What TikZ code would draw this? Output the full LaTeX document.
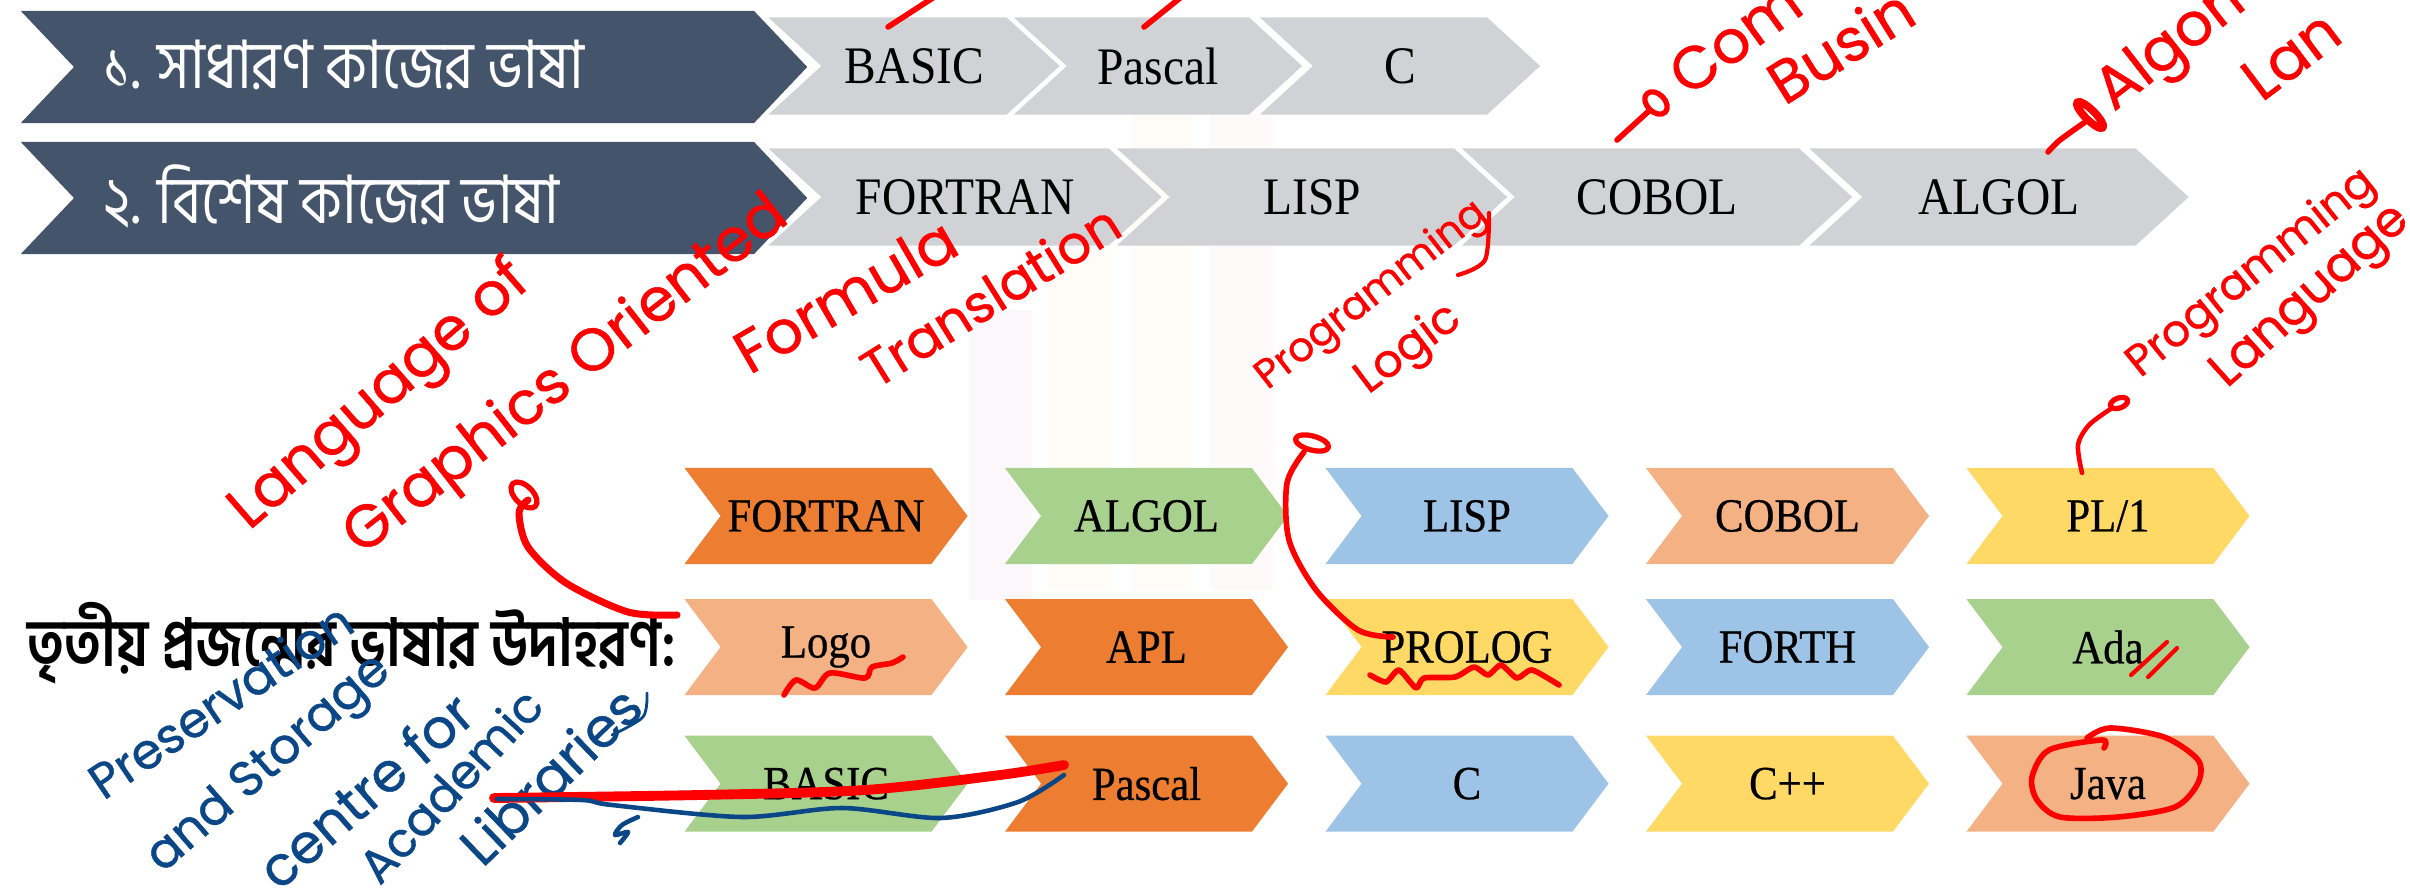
\documentclass[tikz,border=0pt]{standalone}
\usepackage{fontspec}
\setmainfont{Liberation Serif}
\newfontfamily\bnfont[Script=Bengali,FakeStretch=0.84]{Hind Siliguri}
\newfontfamily\chevfont[FakeStretch=0.9]{Liberation Serif}
\newfontfamily\gridfont[FakeStretch=0.9,FakeBold=0.5]{Liberation Serif}
\newfontfamily\inkfont[FakeBold=0.8]{Poppins}
\usetikzlibrary{shapes,positioning,calc}

\definecolor{slatefill}{HTML}{44546A}
\definecolor{greyfill}{HTML}{D0D2D6}
\definecolor{orangefill}{HTML}{ED7D31}
\definecolor{greenfill}{HTML}{A9D18E}
\definecolor{bluefill}{HTML}{9DC3E6}
\definecolor{peachfill}{HTML}{F4B183}
\definecolor{yellowfill}{HTML}{FFD966}
\definecolor{inkred}{HTML}{FF0000}
\definecolor{inkblue}{HTML}{0B4786}

\begin{document}
\begin{tikzpicture}[
    x=0.01cm,
    y=-0.01cm,
    chevron/.style={
        signal,
        signal from=west,
        signal to=east,
        inner sep=0pt
    },
    band/.style={
        chevron,
        fill=slatefill,
        signal pointer angle=93,
        minimum width=7.86cm,
        minimum height=1.12cm
    },
    bandtext/.style={
        anchor=west,
        text=white,
        inner sep=0pt,
        font=\bnfont\fontsize{19}{24}\selectfont
    },
    topcell/.style={
        chevron,
        fill=greyfill,
        signal pointer angle=85,
        minimum height=0.97cm,
        font=\chevfont\fontsize{15}{18}\selectfont
    },
    gridcell/.style={
        chevron,
        signal pointer angle=106,
        minimum width=2.83cm,
        minimum height=0.96cm,
        font=\gridfont\fontsize{13.5}{16}\selectfont
    },
    nextcol/.style={
        right=3.203cm of #1.center,
        anchor=center
    },
    redtext/.style={
        text=inkred,
        inner sep=0pt,
        font=\inkfont\fontsize{17}{20}\selectfont
    },
    bluetext/.style={
        text=inkblue,
        inner sep=0pt,
        font=\inkfont\fontsize{14}{20}\selectfont
    },
    redline/.style={
        draw=inkred,
        line width=1.6pt,
        line cap=round,
        line join=round
    },
    blueline/.style={
        draw=inkblue,
        line width=1.3pt,
        line cap=round,
        line join=round
    }
]

    \useasboundingbox (0,0) rectangle (2410,894);
    \clip (0,0) rectangle (2410,894);

    % Watermark
    \fill [red!2] (1210,115) rectangle (1273,590);
    \fill [orange!3] (1132,115) rectangle (1193,590);
    \fill [orange!3] (1048,250) rectangle (1113,590);
    \fill [violet!3] (970,310) rectangle (1032,600);

    % First band
    \node [band] (general) at (414,67) {};
    \node [bandtext] (generaltext) at (103,65) {১. সাধারণ কাজের ভাষা};
    \node [topcell, minimum width=2.91cm] (basictop) at (914,66) {BASIC};
    \node [topcell, minimum width=2.88cm] (pascaltop) at (1158,66) {Pascal};
    \node [topcell, minimum width=2.80cm] (ctop) at (1400,66) {C};

    % Second band
    \node [band] (special) at (414,198) {};
    \node [bandtext] (specialtext) at (103,196) {২. বিশেষ কাজের ভাষা};
    \node [topcell, minimum width=3.93cm] (fortrantop) at (965,197) {FORTRAN};
    \node [topcell, minimum width=3.90cm] (lisptop) at (1312,197) {LISP};
    \node [topcell, minimum width=3.90cm] (coboltop) at (1657,197) {COBOL};
    \node [topcell, minimum width=3.79cm] (algoltop) at (1999,197) {ALGOL};

    % Third generation grid
    \node [anchor=west, inner sep=0pt, font=\bnfont\bfseries\fontsize{18.8}{24}\selectfont] (thirdtext) at (27,643) {তৃতীয় প্রজন্মের ভাষার উদাহরণ:};

    \node [gridcell, fill=orangefill] (fortran) at (826,516) {FORTRAN};
    \node [gridcell, fill=greenfill, nextcol=fortran] (algol) {ALGOL};
    \node [gridcell, fill=bluefill, nextcol=algol] (lisp) {LISP};
    \node [gridcell, fill=peachfill, nextcol=lisp] (cobol) {COBOL};
    \node [gridcell, fill=yellowfill, nextcol=cobol] (plone) {PL/1};

    \node [gridcell, fill=peachfill, below=1.31cm of fortran.center, anchor=center] (logo) {Logo};
    \node [gridcell, fill=orangefill, nextcol=logo] (apl) {APL};
    \node [gridcell, fill=yellowfill, nextcol=apl] (prolog) {PROLOG};
    \node [gridcell, fill=bluefill, nextcol=prolog] (forth) {FORTH};
    \node [gridcell, fill=greenfill, nextcol=forth] (ada) {Ada};

    \node [gridcell, fill=greenfill, below=1.365cm of logo.center, anchor=center] (basic) {BASIC};
    \node [gridcell, fill=orangefill, nextcol=basic] (pascal) {Pascal};
    \node [gridcell, fill=bluefill, nextcol=pascal] (c) {C};
    \node [gridcell, fill=yellowfill, nextcol=c] (cpp) {C++};
    \node [gridcell, fill=peachfill, nextcol=cpp] (java) {Java};

    % Red notes
    \node [redtext, rotate=41] (language) at (381,397) {Language of};
    \node [redtext, rotate=38] (graphics) at (567,377) {Graphics Oriented};
    \node [redtext, rotate=30] (formula) at (845,295) {Formula};
    \node [redtext, rotate=32, font=\inkfont\fontsize{15}{16}\selectfont] (translation) at (990,295) {Translation};
    \node [redtext, rotate=38, font=\inkfont\fontsize{11.5}{16}\selectfont] (programmingmid) at (1372,296) {Programming};
    \node [redtext, rotate=37, font=\inkfont\fontsize{13}{16}\selectfont] (logic) at (1409,350) {Logic};
    \node [redtext, rotate=39, font=\inkfont\fontsize{12.5}{16}\selectfont] (programmingend) at (2252,274) {Programming};
    \node [redtext, rotate=42, font=\inkfont\fontsize{14}{16}\selectfont] (languageend) at (2312,298) {Language};
    \node [redtext, rotate=36] (com) at (1735,38) {Com};
    \node [redtext, rotate=32] (business) at (1840,45) {Busin};
    \node [redtext, rotate=38] (algori) at (2172,48) {Algori};
    \node [redtext, rotate=37] (lan) at (2291,55) {Lan};

    % Blue notes
    \node [bluetext, rotate=34] (preservation) at (220,700) {Preservation};
    \node [bluetext, rotate=41] (storage) at (270,765) {and Storage};
    \node [bluetext, rotate=41, font=\inkfont\fontsize{15.5}{20}\selectfont] (centre) at (365,790) {centre for};
    \node [bluetext, rotate=47, font=\inkfont\fontsize{13.5}{20}\selectfont] (academic) at (450,785) {Academic};
    \node [bluetext, rotate=44, font=\inkfont\fontsize{15.5}{20}\selectfont] (libraries) at (550,775) {Libraries};

    % Free ends of the strokes
    \coordinate (graphicsend) at (528,500);
    \coordinate (logicend) at (1304,452);
    \coordinate (plend) at (2112,408);
    \coordinate (comend) at (1650,110);
    \coordinate (algoend) at (2088,120);
    \coordinate (basicstart) at (494,798);
    \coordinate (basicend) at (1064,765);
    \coordinate (bluestart) at (497,799);
    \coordinate (blueend) at (1064,775);

    % Curved strokes
    \draw [redline, line width=2pt] plot [smooth] coordinates {(677,615) (628,612) (566,583) (528,547) (519,513) (graphicsend)};
    \draw [redline, line width=1.5pt] (524,495) ellipse [x radius=0.16cm, y radius=0.09cm, rotate=-45];
    \draw [redline] plot [smooth] coordinates {(1393,637) (1358,630) (1316,590) (1289,540) (1287,483) (logicend)};
    \draw [redline, line width=1.5pt] (1312,443) ellipse [x radius=0.17cm, y radius=0.07cm, rotate=-15];
    \draw [redline, line width=1.3pt] plot [smooth] coordinates {(2082,473) (2078,445) (2089,425) (plend)};
    \draw [redline, line width=1.5pt] (2119,403) ellipse [x radius=0.09cm, y radius=0.05cm, rotate=20];
    \draw [redline] (1617,140) -- (comend);
    \draw [redline, line width=1.5pt] (1656,103) ellipse [x radius=0.13cm, y radius=0.09cm, rotate=-45];
    \draw [redline] plot [smooth] coordinates {(2048,152) (2060,140) (algoend)};
    \draw [redline, line width=2.2pt] (2090,115) ellipse [x radius=0.18cm, y radius=0.05cm, rotate=-45];
    \draw [redline] (888,27) -- (945,-10);
    \draw [redline] (1144,27) -- (1190,-10);

    % Marks on the grid
    \draw [redline] plot [smooth, tension=0.5] coordinates {(784,695) (796,680) (815,688) (830,673) (865,678) (872,667) (892,663) (903,657)};
    \draw [redline] plot [smooth, tension=0.4] coordinates {(1370,675) (1386,682) (1399,670) (1416,688) (1424,678) (1455,677) (1474,667) (1488,675) (1501,665) (1517,678) (1532,670) (1559,685)};
    \draw [redline, line width=1.2pt] (2131,675) -- (2167,642);
    \draw [redline, line width=1.2pt] (2148,677) -- (2177,648);
    \draw [redline] plot [smooth] coordinates {(2087,738) (2110,728) (2164,737) (2198,760) (2198,783) (2175,807) (2118,817) (2060,817) (2037,800) (2032,777) (2049,750) (2102,740) (2104,748)};
    \draw [redline, line width=1.2pt] plot [smooth] coordinates {(1489,213) (1485,260) (1458,275)};
    \draw [redline, line width=2.8pt] plot [smooth] coordinates {(basicstart) (700,795) (865,790) (1000,775) (basicend)};
    \draw [blueline] plot [smooth] coordinates {(bluestart) (582,800) (612,805) (742,817) (842,808) (941,818) (1018,802) (blueend)};
    \draw [blueline] plot [smooth] coordinates {(638,817) (622,825) (615,835) (628,832) (620,843)};
    \draw [blueline, line width=0.8pt] plot [smooth] coordinates {(647,693) (643,717) (612,735)};

\end{tikzpicture}
\end{document}
